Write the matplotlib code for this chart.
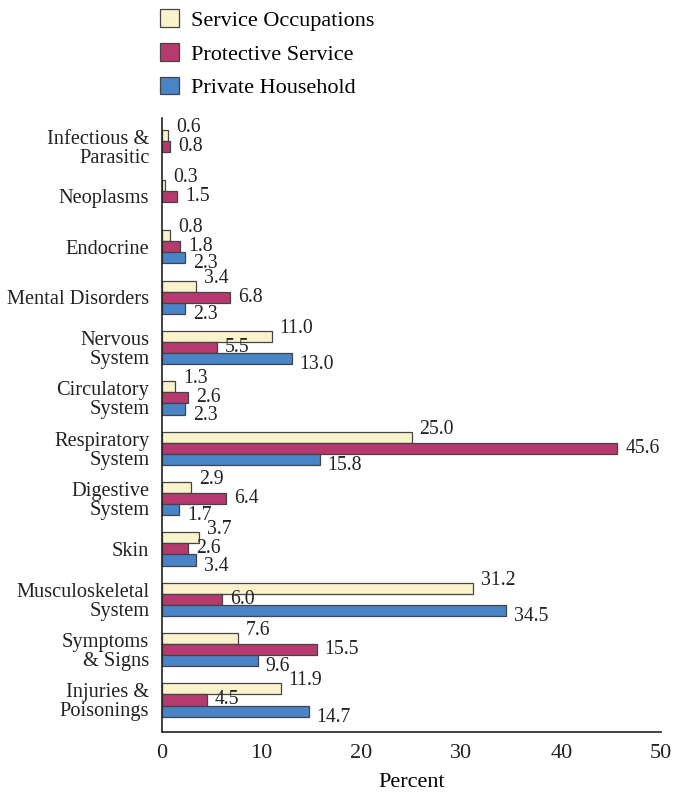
import matplotlib.pyplot as plt
import numpy as np
from matplotlib.patches import Patch

plt.rcParams['font.family'] = ['Liberation Serif', 'DejaVu Serif']

categories = ["Infectious &\nParasitic", "Neoplasms", "Endocrine", "Mental Disorders",
              "Nervous\nSystem", "Circulatory\nSystem", "Respiratory\nSystem",
              "Digestive\nSystem", "Skin", "Musculoskeletal\nSystem",
              "Symptoms\n& Signs", "Injuries &\nPoisonings"]
service = [0.6, 0.3, 0.8, 3.4, 11.0, 1.3, 25.0, 2.9, 3.7, 31.2, 7.6, 11.9]
protective = [0.8, 1.5, 1.8, 6.8, 5.5, 2.6, 45.6, 6.4, 2.6, 6.0, 15.5, 4.5]
household = [None, None, 2.3, 2.3, 13.0, 2.3, 15.8, 1.7, 3.4, 34.5, 9.6, 14.7]

series = [("Service Occupations", service, "#FAF2CB"),
          ("Protective Service", protective, "#B6396F"),
          ("Private Household", household, "#4884C6")]

fig = plt.figure(figsize=(6.83, 7.93), dpi=100)
ax = fig.add_axes([0.237, 0.077, 0.731, 0.774])

y = np.arange(len(categories))
h = 0.22
label_dy = [-0.16, 0.0, 0.12]
for i, (name, vals, col) in enumerate(series):
    for j, v in enumerate(vals):
        if v is None:
            continue
        yy = y[j] + (i - 1) * h
        ax.barh(yy, v, height=h, color=col, edgecolor="#444444", linewidth=0.9)
        ax.text(v + 0.8, yy + label_dy[i], f"{v:.1f}", va="center", ha="left",
                fontsize=14.2, color="#222222")

ax.set_xlim(0, 50)
ax.set_ylim(11.635, -0.556)
ax.set_yticks(y)
ax.set_yticklabels(categories, linespacing=1.0)
ax.set_xticks([0, 10, 20, 30, 40, 50])
ax.tick_params(axis="both", length=0, colors="#222222")
ax.tick_params(axis="x", pad=9, labelsize=16)
ax.tick_params(axis="y", pad=9, labelsize=14.7)
for s in ["top", "right"]:
    ax.spines[s].set_visible(False)
for s in ["left", "bottom"]:
    ax.spines[s].set_linewidth(1.2)
    ax.spines[s].set_color("#222222")
ax.set_xlabel("Percent", fontsize=16, labelpad=7)

handles = [Patch(facecolor=c, edgecolor="#444444", linewidth=0.9, label=n) for n, _, c in series]
fig.legend(handles=handles, loc="upper left", bbox_to_anchor=(0.228, 0.994),
           frameon=False, fontsize=16, handlelength=0.85, handleheight=0.85,
           handletextpad=0.55, labelspacing=0.55, borderpad=0.2, borderaxespad=0)

fig.savefig("out.png", dpi=100)
